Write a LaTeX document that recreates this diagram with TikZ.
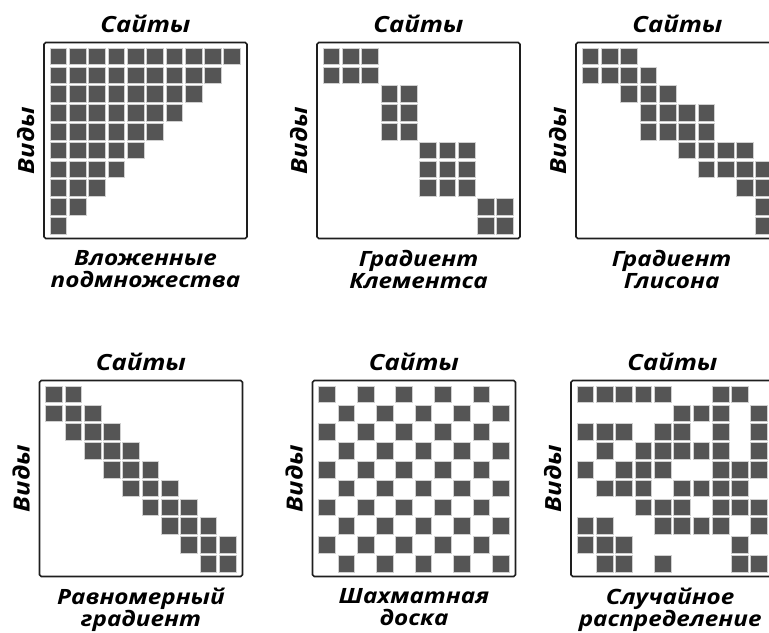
\documentclass[tikz,border=0pt]{standalone}
\usepackage{fontspec}
\setmainfont{Open Sans}
\newfontfamily\widefont{Open Sans}[FakeStretch=1.15]
\usetikzlibrary{positioning}
\definecolor{CellGray}{HTML}{555555}
\definecolor{CellEdge}{HTML}{D0D0D0}
\definecolor{FrameInk}{HTML}{1E1E1E}

% one filled square of a 10x10 matrix, column #1, row #2
\newcommand{\cellxy}[2]{\draw[cell] ({6+19.3*#1},{5.5+18.8*#2}) rectangle +(16.7,16.7);}

\begin{document}
\begin{tikzpicture}[
    x=0.03cm, y=-0.03cm,
    frame/.style={draw=FrameInk, line width=1.4pt, rounded corners=1.5pt, minimum width=173.3pt, minimum height=167.3pt, inner sep=0pt, outer sep=0pt},
    cell/.style={fill=CellGray, draw=CellEdge, line width=0.4pt},
    title/.style={font=\widefont\bfseries\itshape\fontsize{19}{21}\selectfont, inner sep=0pt},
    axis/.style={font=\widefont\bfseries\itshape\fontsize{19}{21}\selectfont, inner sep=0pt, rotate=90},
    caption/.style={font=\widefont\bfseries\itshape\fontsize{18}{18.5}\selectfont, align=center, inner sep=0pt}
]
    \useasboundingbox (0,0) rectangle (769,632);
    \clip (0,0) rectangle (769,632);

    % Frames
    \node[frame] (nested) at (145.5,140.5) {};
    \node[frame] (clem) at (418.5,140.5) {};
    \node[frame] (glea) at (677.5,140.5) {};
    \node[frame] (unif) at (141,478.5) {};
    \node[frame] (chess) at (414,478.5) {};
    \node[frame] (rand) at (672.5,478.5) {};

    % Nested subsets
    \begin{scope}[shift={(nested.north west)}]
        \foreach \r in {0,...,9} {
            \pgfmathtruncatemacro\last{9-\r}
            \foreach \c in {0,...,\last} {\cellxy{\c}{\r}}
        }
    \end{scope}

    % Clements gradient
    \begin{scope}[shift={(clem.north west)}]
        \foreach \ra/\rb/\ca/\cb in {0/1/0/2, 2/4/3/4, 5/7/5/7, 8/9/8/9}
            \foreach \r in {\ra,...,\rb}
                \foreach \c in {\ca,...,\cb} {\cellxy{\c}{\r}}
    \end{scope}

    % Gleason gradient
    \begin{scope}[shift={(glea.north west)}]
        \foreach \r/\cols in {0/{0,1,2}, 1/{0,1,2,3}, 2/{2,3,4}, 3/{3,4,5,6}, 4/{3,4,5,6},
                              5/{5,6,7,8}, 6/{6,7,8,9}, 7/{8,9}, 8/{9}, 9/{9}}
            \foreach \c in \cols {\cellxy{\c}{\r}}
    \end{scope}

    % Even gradient
    \begin{scope}[shift={(unif.north west)}]
        \foreach \r in {0,...,9}
            \foreach \d in {-1,0,1} {
                \pgfmathtruncatemacro\c{\r+\d}
                \ifnum\c<0 \else\ifnum\c>9 \else \cellxy{\c}{\r}\fi\fi
            }
    \end{scope}

    % Checkerboard
    \begin{scope}[shift={(chess.north west)}]
        \foreach \r in {0,...,9}
            \foreach \c in {0,...,9} {
                \ifodd\numexpr\r+\c\relax \else \cellxy{\c}{\r}\fi
            }
    \end{scope}

    % Random
    \begin{scope}[shift={(rand.north west)}]
        \foreach \r/\cols in {0/{0,1,2,3,4,7,8}, 1/{5,6,7,9}, 2/{0,1,2,4,5,7,9}, 3/{1,3,4,5,6,7,9},
                              4/{0,2,3,4,7,8,9}, 5/{1,2,3,5,6,7,8}, 6/{3,4,5,7,8,9},
                              7/{0,1,4,5,6,7,9}, 8/{0,1,2,8}, 9/{1,2,4,8,9}}
            \foreach \c in \cols {\cellxy{\c}{\r}}
    \end{scope}

    % Labels, top row
    \node[title, above=8pt of nested] (nestedTop) {Сайты};
    \node[title, above=8pt of clem] (clemTop) {Сайты};
    \node[title, above=8pt of glea] (gleaTop) {Сайты};
    \node[axis, left=8pt of nested, anchor=south] (nestedSide) {Виды};
    \node[axis, left=8pt of clem, anchor=south] (clemSide) {Виды};
    \node[axis, left=8pt of glea, anchor=south] (gleaSide) {Виды};
    \node[caption, below=10pt of nested] (nestedBot) {Вложенные\\подмножества};
    \node[caption, below=10pt of clem] (clemBot) {Градиент\\Клементса};
    \node[caption, below=10pt of glea, xshift=-5pt] (gleaBot) {Градиент\\Глисона};

    % Labels, bottom row
    \node[title, above=8pt of unif] (unifTop) {Сайты};
    \node[title, above=8pt of chess] (chessTop) {Сайты};
    \node[title, above=8pt of rand] (randTop) {Сайты};
    \node[axis, left=8pt of unif, anchor=south] (unifSide) {Виды};
    \node[axis, left=8pt of chess, anchor=south] (chessSide) {Виды};
    \node[axis, left=8pt of rand, anchor=south] (randSide) {Виды};
    \node[caption, below=10pt of unif] (unifBot) {Равномерный\\градиент};
    \node[caption, below=10pt of chess] (chessBot) {Шахматная\\доска};
    \node[caption, below=10pt of rand, xshift=-2pt] (randBot) {Случайное\\распределение};
\end{tikzpicture}
\end{document}
